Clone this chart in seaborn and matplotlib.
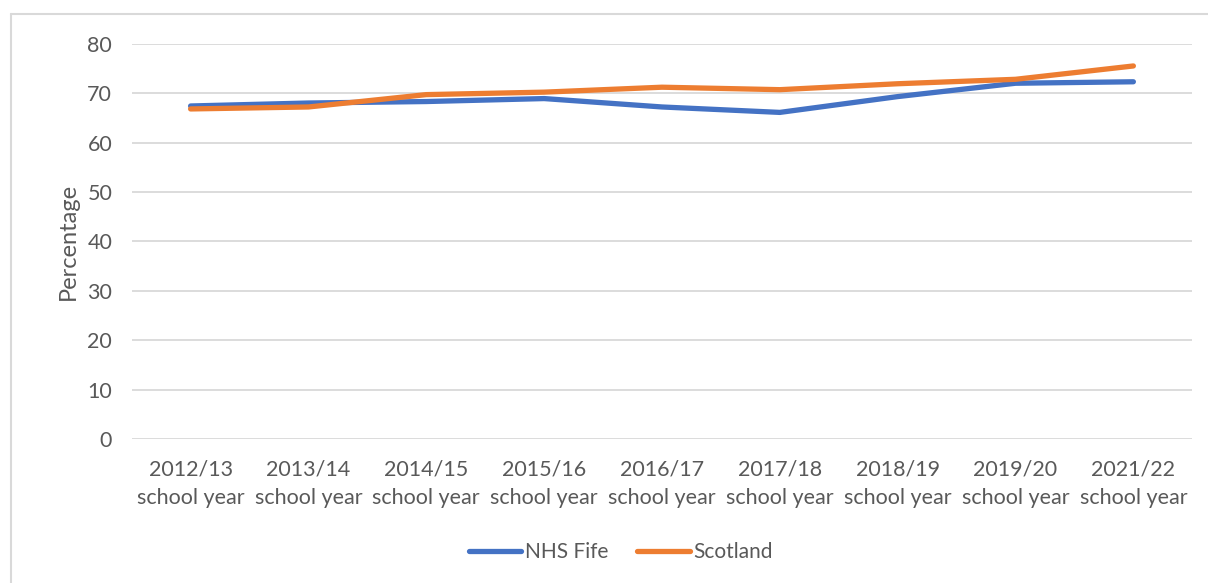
import matplotlib
matplotlib.use("Agg")
import matplotlib.pyplot as plt
from matplotlib.lines import Line2D
import seaborn as sns
import pandas as pd

# School years shown on the x axis
years = ["2012/13", "2013/14", "2014/15", "2015/16", "2016/17",
         "2017/18", "2018/19", "2019/20", "2021/22"]
tick_labels = [f"{y}\nschool year" for y in years]

# Percentage values per area
nhs_fife = [67.4, 68.0, 68.3, 68.9, 67.2, 66.1, 69.3, 72.0, 72.3]
scotland = [66.8, 67.2, 69.7, 70.2, 71.2, 70.7, 71.9, 72.8, 75.5]

series_names = ["NHS Fife", "Scotland"]
palette = {"NHS Fife": "#4472C4", "Scotland": "#ED7D31"}

df = pd.DataFrame({
    "year": years * 2,
    "pct": nhs_fife + scotland,
    "area": [series_names[0]] * len(years) + [series_names[1]] * len(years),
})

sns.set_theme(style="white")
plt.rcParams["font.family"] = ["Lato", "DejaVu Sans"]

text_col = "#595959"
grid_col = "#D9D9D9"

fig = plt.figure(figsize=(12.08, 5.83), dpi=100)
ax = fig.add_axes([0.109, 0.247, 0.878, 0.678])

sns.lineplot(data=df, x="year", y="pct", hue="area", palette=palette,
             linewidth=3.8, sort=False, legend=False, ax=ax,
             solid_capstyle="round")

ax.set_ylim(0, 80)
ax.set_xlim(-0.5, len(years) - 0.5)
ax.set_yticks(range(0, 81, 10))
ax.set_xticks(range(len(years)))
ax.set_xticklabels(tick_labels, linespacing=1.5)
ax.tick_params(axis="both", length=0, labelsize=15.5, colors=text_col)
ax.tick_params(axis="x", pad=15)
ax.tick_params(axis="y", pad=14)

ax.grid(axis="y", color=grid_col, linewidth=1.3)
ax.set_axisbelow(True)
for s in ax.spines.values():
    s.set_visible(False)

ax.set_xlabel("")
ax.set_ylabel("Percentage", fontsize=17, color=text_col, labelpad=6)

handles = [Line2D([0], [0], color=palette[n], lw=3.8, solid_capstyle="round")
           for n in series_names]
fig.legend(handles, series_names, loc="center", bbox_to_anchor=(0.514, 0.053),
           ncol=2, frameon=False, fontsize=15, labelcolor=text_col,
           handlelength=2.5, handletextpad=0.2, columnspacing=1.4)

# Outer chart border (top and left edges)
fig.add_artist(Line2D([11 / 1208, 1.0], [1 - 14 / 583, 1 - 14 / 583],
                      transform=fig.transFigure, color="#D9D9D9", lw=1.5))
fig.add_artist(Line2D([11 / 1208, 11 / 1208], [0.0, 1 - 14 / 583],
                      transform=fig.transFigure, color="#D9D9D9", lw=1.5))

fig.savefig("out.png", dpi=100, facecolor="white")
